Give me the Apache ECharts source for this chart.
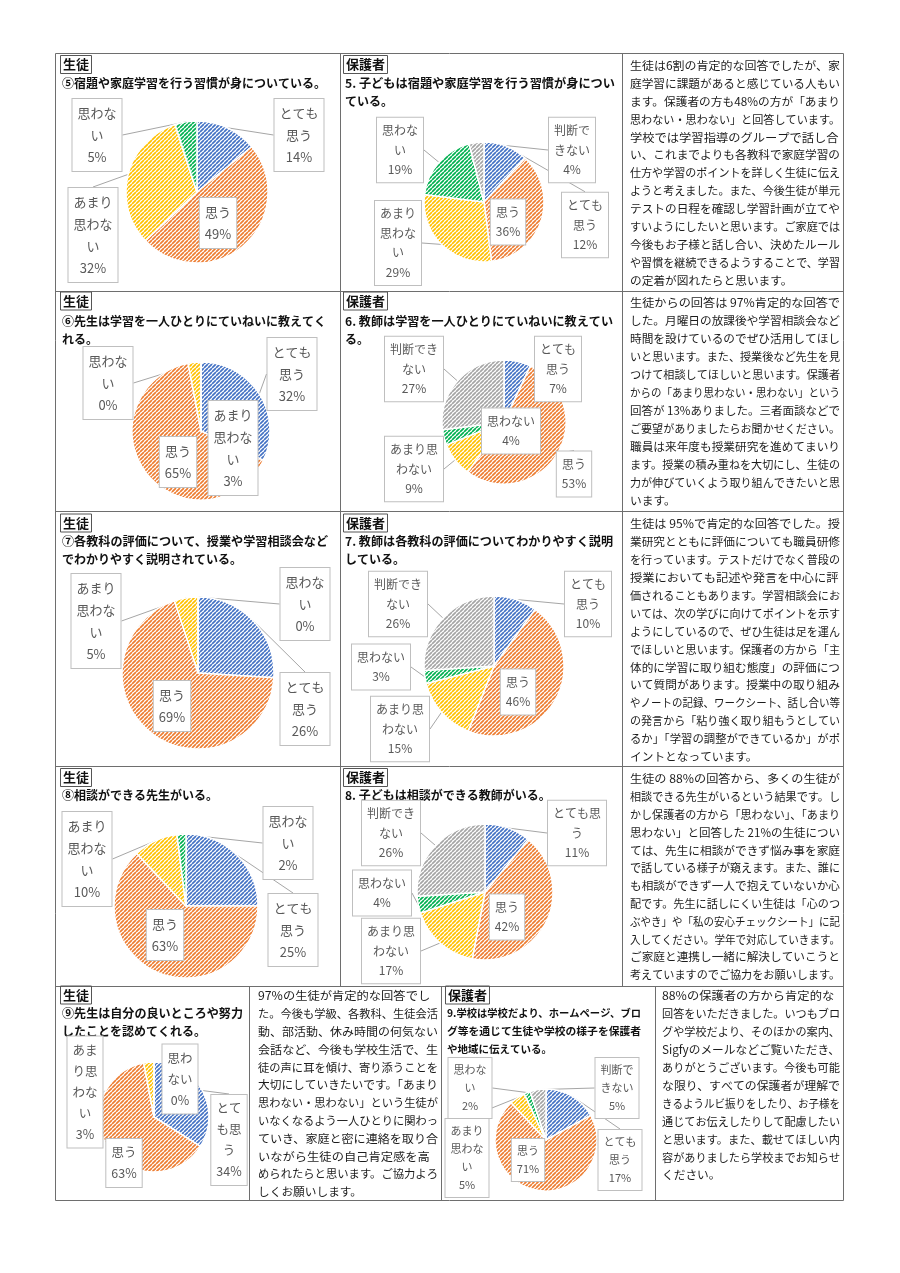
<!DOCTYPE html>
<html><head><meta charset="utf-8">
<script src="https://cdn.jsdelivr.net/npm/echarts@6/dist/echarts.min.js"></script>
<style>html,body{margin:0;padding:0;background:#fff}#c{width:900px;height:1273px}</style>
</head><body><div id="c"></div>
<script>
// ================= DATA =================
const studentCats = ['とても思う', '思う', 'あまり思わない', '思わない'];
const parentCats = ['とても思う', '思う', 'あまり思わない', '思わない', '判断できない'];

const q5Student = [14, 49, 32, 5];
const q5Parent  = [12, 36, 29, 19, 4];
const q6Student = [32, 65, 3, 0];
const q6Parent  = [7, 53, 9, 4, 27];
const q7Student = [26, 69, 5, 0];
const q7Parent  = [10, 46, 15, 3, 26];
const q8Student = [25, 63, 10, 2];
const q8Parent  = [11, 42, 17, 4, 26];
const q9Student = [34, 63, 3, 0];
const q9Parent  = [17, 71, 5, 2, 5];

const tagStudent = '生徒';
const tagParent = '保護者';

const title5S = ['⑤宿題や家庭学習を行う習慣が身についている。'];
const title5P = ['5. 子どもは宿題や家庭学習を行う習慣が身につい', 'ている。'];
const title6S = ['⑥先生は学習を一人ひとりにていねいに教えてく', 'れる。'];
const title6P = ['6. 教師は学習を一人ひとりにていねいに教えてい', 'る。'];
const title7S = ['⑦各教科の評価について、授業や学習相談会など', 'でわかりやすく説明されている。'];
const title7P = ['7. 教師は各教科の評価についてわかりやすく説明', 'している。'];
const title8S = ['⑧相談ができる先生がいる。'];
const title8P = ['8. 子どもは相談ができる教師がいる。'];
const title9S = ['⑨先生は自分の良いところや努力', 'したことを認めてくれる。'];
const title9P = ['9.学校は学校だより、ホームページ、ブロ', 'グ等を通じて生徒や学校の様子を保護者', 'や地域に伝えている。'];

const comment5 = [
  '生徒は6割の肯定的な回答でしたが、家',
  '庭学習に課題があると感じている人もい',
  'ます。保護者の方も48%の方が「あまり',
  '思わない・思わない」と回答しています。',
  '学校では学習指導のグループで話し合',
  'い、これまでよりも各教科で家庭学習の',
  '仕方や学習のポイントを詳しく生徒に伝え',
  'ようと考えました。また、今後生徒が単元',
  'テストの日程を確認し学習計画が立てや',
  'すいようにしたいと思います。ご家庭では',
  '今後もお子様と話し合い、決めたルール',
  'や習慣を継続できるようすることで、学習',
  'の定着が図れたらと思います。'
];
const comment6 = [
  '生徒からの回答は 97%肯定的な回答で',
  'した。月曜日の放課後や学習相談会など',
  '時間を設けているのでぜひ活用してほし',
  'いと思います。また、授業後など先生を見',
  'つけて相談してほしいと思います。保護者',
  'からの「あまり思わない・思わない」という',
  '回答が 13%ありました。三者面談などで',
  'ご要望がありましたらお聞かせください。',
  '職員は来年度も授業研究を進めてまいり',
  'ます。授業の積み重ねを大切にし、生徒の',
  '力が伸びていくよう取り組んできたいと思',
  'います。'
];
const comment7 = [
  '生徒は 95%で肯定的な回答でした。授',
  '業研究とともに評価についても職員研修',
  'を行っています。テストだけでなく普段の',
  '授業においても記述や発言を中心に評',
  '価されることもあります。学習相談会にお',
  'いては、次の学びに向けてポイントを示す',
  'ようにしているので、ぜひ生徒は足を運ん',
  'でほしいと思います。保護者の方から「主',
  '体的に学習に取り組む態度」の評価につ',
  'いて質問があります。授業中の取り組み',
  'やノートの記録、ワークシート、話し合い等',
  'の発言から「粘り強く取り組もうとしてい',
  'るか」「学習の調整ができているか」がポ',
  'イントとなっています。'
];
const comment8 = [
  '生徒の 88%の回答から、多くの生徒が',
  '相談できる先生がいるという結果です。し',
  'かし保護者の方から「思わない」、「あまり',
  '思わない」と回答した 21%の生徒につい',
  'ては、先生に相談ができず悩み事を家庭',
  'で話している様子が窺えます。また、誰に',
  'も相談ができず一人で抱えていないか心',
  '配です。先生に話しにくい生徒は「心のつ',
  'ぶやき」や「私の安心チェックシート」に記',
  '入してください。学年で対応していきます。',
  'ご家庭と連携し一緒に解決していこうと',
  '考えていますのでご協力をお願いします。'
];
const comment9S = [
  '97%の生徒が肯定的な回答でし',
  'た。今後も学級、各教科、生徒会活',
  '動、部活動、休み時間の何気ない',
  '会話など、今後も学校生活で、生',
  '徒の声に耳を傾け、寄り添うことを',
  '大切にしていきたいです。「あまり',
  '思わない・思わない」という生徒が',
  'いなくなるよう一人ひとりに関わっ',
  'ていき、家庭と密に連絡を取り合',
  'いながら生徒の自己肯定感を高',
  'められたらと思います。ご協力よろ',
  'しくお願いします。'
];
const comment9P = [
  '88%の保護者の方から肯定的な',
  '回答をいただきました。いつもブロ',
  'グや学校だより、そのほかの案内、',
  'Sigfyのメールなどご覧いただき、',
  'ありがとうございます。今後も可能',
  'な限り、すべての保護者が理解で',
  'きるようルビ振りをしたり、お子様を',
  '通じてお伝えしたりして配慮したい',
  'と思います。また、載せてほしい内',
  '容がありましたら学校までお知らせ',
  'ください。'
];

// ================= LAYOUT / STYLE =================
const FONT = '"Noto Sans CJK JP","Noto Sans CJK SC",sans-serif';
const BASE = ['#4472C4', '#ED7D31', '#FFC000', '#00B050', '#A5A5A5'];

function hatch(color) {
  const s = 4, c = document.createElement('canvas');
  c.width = s; c.height = s;
  const g = c.getContext('2d');
  g.fillStyle = '#fff'; g.fillRect(0, 0, s, s);
  g.strokeStyle = color; g.lineWidth = 1.7;
  g.beginPath();
  for (let k = -1; k <= 1; k++) { g.moveTo(k * s, s); g.lineTo(k * s + s, 0); }
  g.stroke();
  return { image: c, repeat: 'repeat' };
}
const PAT = BASE.map(hatch);

const pies = [
  { vals: q5Student, cats: studentCats, center: [197, 192], r: 71, fs: 13, lh: 22,
    wrap: [3, 3, 3, 3], pos: [[299, 135], [218, 223], [93, 235], [97, 135]], line: [1, 0, 1, 1] },
  { vals: q5Parent, cats: parentCats, center: [484, 202], r: 60, fs: 12, lh: 19.5,
    wrap: [3, 3, 3, 3, 3], pos: [[585, 225], [508, 222], [398, 243], [400, 150], [572, 150]], line: [1, 0, 1, 1, 1] },
  { vals: q6Student, cats: studentCats, center: [201, 431], r: 69, fs: 13, lh: 22,
    wrap: [3, 3, 3, 3], pos: [[292, 374], [178, 462], [233, 448], [108, 383]], line: [1, 0, 1, 1] },
  { vals: q6Parent, cats: parentCats, center: [504, 422], r: 62, fs: 12, lh: 19.5,
    wrap: [3, 4, 4, 4, 4], pos: [[558, 369], [574, 474], [414, 469], [511, 431], [414, 369]], line: [1, 1, 1, 0, 1] },
  { vals: q7Student, cats: studentCats, center: [198, 673], r: 76, fs: 13, lh: 22,
    wrap: [3, 3, 3, 3], pos: [[305, 709], [172, 706], [96, 621], [305, 604]], line: [1, 0, 1, 1] },
  { vals: q7Parent, cats: parentCats, center: [494, 666], r: 70, fs: 12, lh: 19.5,
    wrap: [3, 4, 4, 4, 4], pos: [[588, 604], [518, 692], [400, 729], [381, 667], [398, 604]], line: [1, 0, 1, 1, 1] },
  { vals: q8Student, cats: studentCats, center: [186, 906], r: 72, fs: 13, lh: 22,
    wrap: [3, 3, 3, 3], pos: [[293, 930], [165, 935], [87, 859], [288, 843]], line: [1, 0, 1, 1] },
  { vals: q8Parent, cats: parentCats, center: [485, 892], r: 68, fs: 12, lh: 19.5,
    wrap: [4, 4, 4, 4, 4], pos: [[577, 833], [507, 917], [391, 951], [382, 893], [391, 833]], line: [1, 0, 1, 1, 1] },
  { vals: q9Student, cats: studentCats, center: [154, 1117], r: 55, fs: 12.5, lh: 21,
    wrap: [2, 2, 2, 2], pos: [[229, 1140], [124, 1163], [85, 1092], [180, 1079]], line: [1, 0, 1, 1] },
  { vals: q9Parent, cats: parentCats, center: [546, 1140], r: 51, fs: 11, lh: 18,
    wrap: [3, 3, 3, 3, 3], pos: [[620, 1160], [528, 1160], [467, 1158], [470, 1088], [617, 1088]], line: [1, 0, 1, 1, 1] }
];

function chunk(str, n) {
  const out = [];
  for (let i = 0; i < str.length; i += n) out.push(str.slice(i, i + n));
  return out.join('\n');
}

// text measuring for line fitting
const mctx = document.createElement('canvas').getContext('2d');
function measure(txt, size, weight) {
  mctx.font = (weight || 'normal') + ' ' + size + 'px ' + FONT;
  return mctx.measureText(txt).width;
}

const G = [];
const BORDER = '#6e6e6e';
function hline(x1, y1, x2, y2) {
  G.push({ type: 'line', silent: true, shape: { x1, y1, x2, y2 }, style: { stroke: BORDER, lineWidth: 1 } });
}
function txt(str, x, y, size, weight, W, stretch, fill) {
  const w = measure(str, size, weight);
  let sc = 1;
  if (W) sc = Math.min(stretch ? 1.05 : 1, W / w);
  G.push({ type: 'text', silent: true, x, y, scaleX: sc,
    style: { text: str, fontSize: size, fontWeight: weight || 'normal', fontFamily: FONT,
      fill: fill || '#111', align: 'left', verticalAlign: 'middle' } });
}
function tag(str, x, y) {
  const w = measure(str, 13, 'bold');
  G.push({ type: 'rect', silent: true, shape: { x: x - 2.5, y: y - 9, width: w + 5, height: 18 },
    style: { fill: 'none', stroke: '#555', lineWidth: 1 } });
  txt(str, x, y, 13, 'bold');
}
function block(lines, x, y0, lh, size, weight, W, fill) {
  lines.forEach((s, i) => txt(s, x, y0 + i * lh, size, weight, W, i < lines.length - 1, fill));
}

// table borders
const L = 55.5, R = 843.5, T = 53.5, B = 1200.5;
hline(L, T, R, T); hline(L, B, R, B); hline(L, T, L, B); hline(R, T, R, B);
[291.5, 511.5, 766.5, 986.5].forEach(y => hline(L, y, R, y));
[340.5, 622.5].forEach(x => hline(x, T, x, 986.5));
[249.5, 441.5, 655.5].forEach(x => hline(x, 986.5, x, B));

// headings
tag(tagStudent, 63, 64.5); block(title5S, 62, 83, 18.5, 12, 'bold', 268);
tag(tagParent, 346, 64.5); block(title5P, 345, 83, 18.5, 12, 'bold', 270);
tag(tagStudent, 63, 301); block(title6S, 62, 321, 18.5, 12, 'bold', 264);
tag(tagParent, 346, 301); block(title6P, 345, 321, 18.5, 12, 'bold', 268);
tag(tagStudent, 63, 523); block(title7S, 62, 541.5, 18, 12, 'bold', 266);
tag(tagParent, 346, 523); block(title7P, 345, 541.5, 18, 12, 'bold', 268);
tag(tagStudent, 63, 777.5); block(title8S, 62, 795.5, 18, 12, 'bold', 268);
tag(tagParent, 346, 777.5); block(title8P, 345, 795.5, 18, 12, 'bold', 268);
tag(tagStudent, 63, 995); block(title9S, 62, 1013, 18, 12, 'bold', 181);
tag(tagParent, 448, 995); block(title9P, 447, 1013, 18, 10.5, 'bold', 194);

// comments
const PF = 11.7, PC = '#1c1c1c';
block(comment5, 630, 65.5, 17.9, PF, 'normal', 210, PC);
block(comment6, 630, 303, 18, PF, 'normal', 210, PC);
block(comment7, 630, 523.5, 17.95, PF, 'normal', 210, PC);
block(comment8, 630, 779, 17.8, PF, 'normal', 210, PC);
block(comment9S, 258, 996, 17.8, PF, 'normal', 180, PC);
block(comment9P, 662, 996, 17.9, PF, 'normal', 178, PC);

// pies
const series = pies.map((p, si) => ({
  type: 'pie',
  center: p.center,
  radius: p.r,
  startAngle: 90,
  clockwise: true,
  avoidLabelOverlap: false,
  silent: true,
  animation: false,
  itemStyle: { borderColor: '#fff', borderWidth: 1.5 },
  label: {
    show: true, position: 'outside',
    formatter: (prm) => chunk(prm.name, p.wrap[prm.dataIndex]) + '\n' + prm.value + '%',
    color: '#595959', fontSize: p.fs, lineHeight: p.lh, fontFamily: FONT,
    backgroundColor: '#fff', borderColor: '#bfbfbf', borderWidth: 1, padding: [3, 5]
  },
  labelLine: { show: true, length: 4, length2: 0, lineStyle: { color: '#a6a6a6', width: 1 } },
  labelLayout: (prm) => ({
    x: p.pos[prm.dataIndex][0], y: p.pos[prm.dataIndex][1],
    align: 'center', verticalAlign: 'middle'
  }),
  data: p.cats.map((c, i) => ({
    name: c, value: p.vals[i],
    itemStyle: { color: PAT[i] },
    labelLine: { show: !!p.line[i] }
  }))
}));

const chart = echarts.init(document.getElementById('c'), null, { renderer: 'canvas' });
chart.setOption({
  animation: false,
  backgroundColor: '#fff',
  textStyle: { fontFamily: FONT },
  graphic: { elements: G },
  series
});
</script>
</body></html>
